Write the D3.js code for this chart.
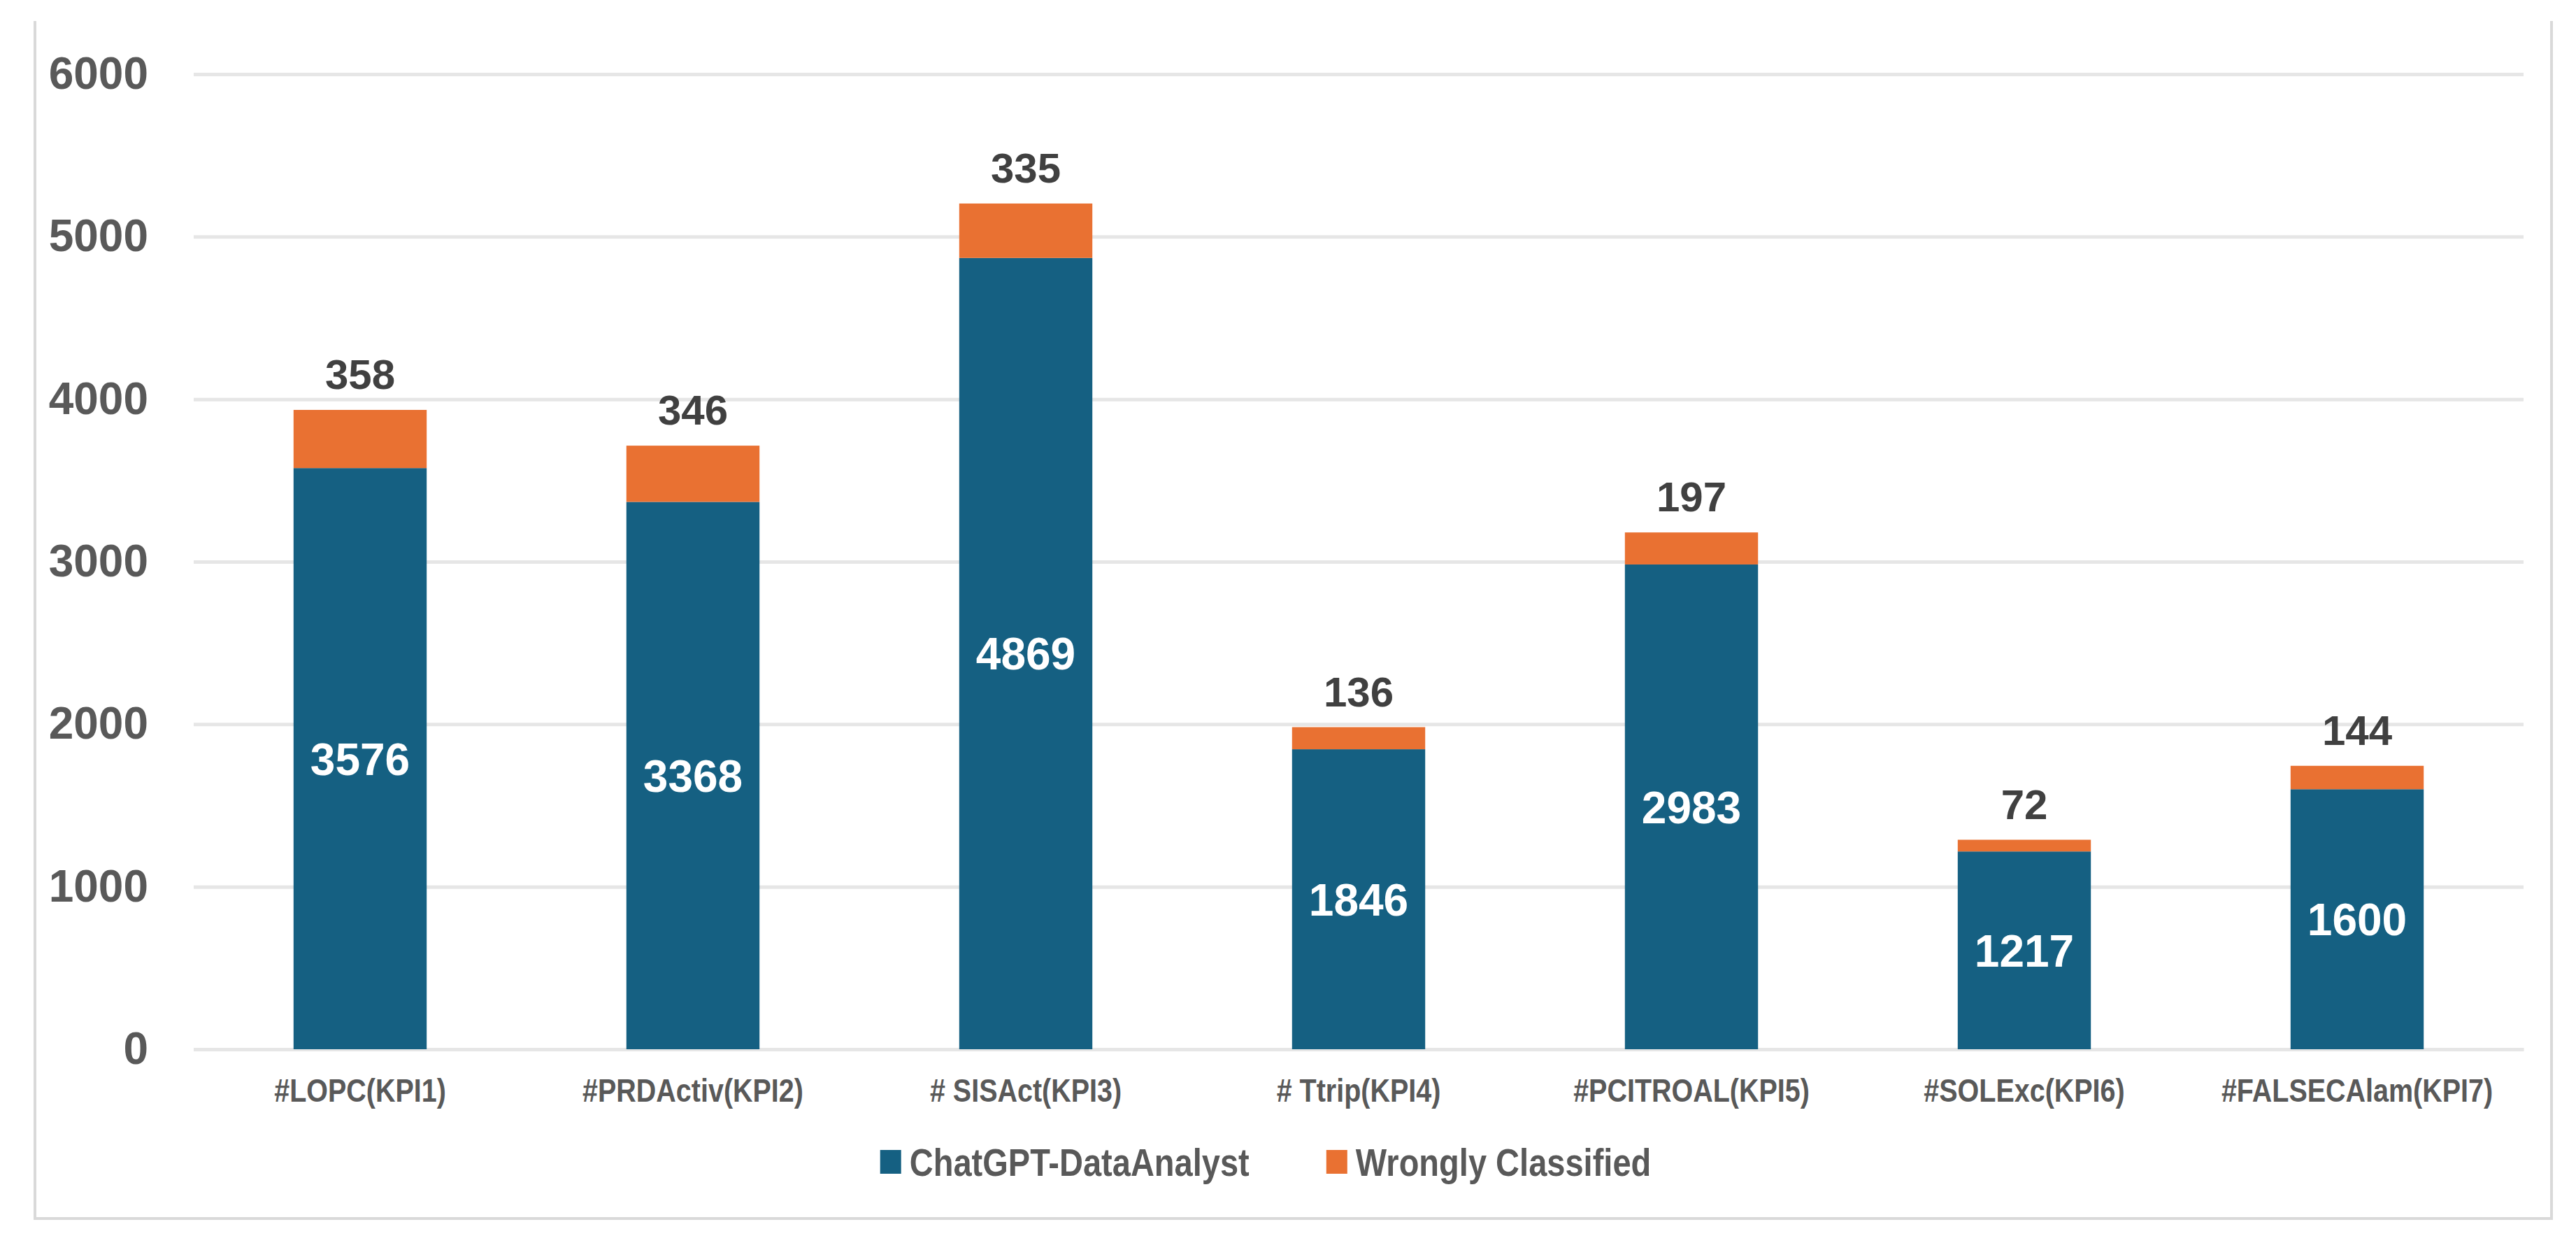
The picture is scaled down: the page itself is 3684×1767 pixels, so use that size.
<!DOCTYPE html>
<html>
<head>
<meta charset="utf-8">
<script src="https://cdn.jsdelivr.net/npm/d3@7"></script>
<style>
  html, body { margin: 0; padding: 0; background: #fff; }
  svg { display: block; }
</style>
</head>
<body>
<div id="chart"></div>
<script>
const categories = ['#LOPC(KPI1)', '#PRDActiv(KPI2)', '# SISAct(KPI3)', '# Ttrip(KPI4)', '#PCITROAL(KPI5)', '#SOLExc(KPI6)', '#FALSECAlam(KPI7)'];
const analystValues = [3576, 3368, 4869, 1846, 2983, 1217, 1600];
const wrongValues = [358, 346, 335, 136, 197, 72, 144];
const seriesNames = ['ChatGPT-DataAnalyst', 'Wrongly Classified'];
const yTicks = [0, 1000, 2000, 3000, 4000, 5000, 6000];

const W = 3684, H = 1767;
const colors = ['#156082', '#E97132'];
const font = '"Liberation Sans", Arial, sans-serif';
const squeeze = 0.84; // the axis/legend text in the original is condensed

const rows = categories.map((c, i) => ({ cat: c, a: analystValues[i], w: wrongValues[i] }));

const svg = d3.select('#chart').append('svg')
  .attr('width', W)
  .attr('height', H);

svg.append('rect').attr('width', W).attr('height', H).attr('fill', '#fff');

// chart border (left, bottom, right)
svg.append('path')
  .attr('d', `M50,30V1742H3649V30`)
  .attr('fill', 'none')
  .attr('stroke', '#d9d9d9')
  .attr('stroke-width', 4);

const x = d3.scaleBand()
  .domain(categories)
  .range([277, 3609])
  .paddingInner(0.6)
  .paddingOuter(0.3);

const y = d3.scaleLinear()
  .domain([0, 6000])
  .range([1500, 106]);

// gridlines + y labels
const yAxis = svg.append('g')
  .attr('transform', 'translate(277,0)')
  .call(d3.axisLeft(y).tickValues(yTicks).tickFormat(d3.format('d')).tickSize(-(3609 - 277)).tickPadding(65));
yAxis.select('.domain').remove();
yAxis.selectAll('.tick line').attr('stroke', '#e6e6e6').attr('stroke-width', 5);
yAxis.selectAll('.tick text')
  .attr('fill', '#595959')
  .style('font-family', font)
  .style('font-weight', 'bold')
  .style('font-size', '64px');

// x axis line + category labels
const xAxis = svg.append('g')
  .attr('transform', 'translate(0,1500)')
  .call(d3.axisBottom(x).tickSize(0).tickPadding(42));
xAxis.select('.domain').attr('stroke', '#e6e6e6').attr('stroke-width', 5);
xAxis.selectAll('.tick text')
  .attr('fill', '#595959')
  .attr('transform', `scale(${squeeze},1)`)
  .style('font-family', font)
  .style('font-weight', 'bold')
  .style('font-size', '47px');

// stacked bars
const stack = d3.stack().keys(['a', 'w'])(rows);
svg.append('g').selectAll('g')
  .data(stack)
  .join('g')
  .attr('fill', (d, i) => colors[i])
  .selectAll('rect')
  .data(d => d)
  .join('rect')
  .attr('x', d => x(d.data.cat))
  .attr('y', d => y(d[1]))
  .attr('width', x.bandwidth())
  .attr('height', d => y(d[0]) - y(d[1]));

// inside labels (blue)
svg.append('g').selectAll('text')
  .data(rows)
  .join('text')
  .attr('x', d => x(d.cat) + x.bandwidth() / 2)
  .attr('y', d => (y(0) + y(d.a)) / 2)
  .attr('dy', '0.36em')
  .attr('text-anchor', 'middle')
  .attr('fill', '#fff')
  .style('font-family', font)
  .style('font-weight', 'bold')
  .style('font-size', '64px')
  .text(d => d.a);

// top labels (orange)
svg.append('g').selectAll('text')
  .data(rows)
  .join('text')
  .attr('x', d => x(d.cat) + x.bandwidth() / 2)
  .attr('y', d => y(d.a + d.w) - 30)
  .attr('text-anchor', 'middle')
  .attr('fill', '#404040')
  .style('font-family', font)
  .style('font-weight', 'bold')
  .style('font-size', '60px')
  .text(d => d.w);

// legend
const legend = svg.append('g').attr('transform', 'translate(0,1661)');
const items = legend.selectAll('g')
  .data(seriesNames)
  .join('g');
items.append('rect')
  .attr('width', 30).attr('height', 34)
  .attr('y', -17)
  .attr('fill', (d, i) => colors[i]);
items.append('text')
  .attr('x', 42 / squeeze)
  .attr('dy', '0.36em')
  .attr('transform', `scale(${squeeze},1)`)
  .attr('fill', '#595959')
  .style('font-family', font)
  .style('font-weight', 'bold')
  .style('font-size', '56px')
  .text(d => d);
const widths = [];
items.each(function () {
  widths.push(42 + this.querySelector('text').getComputedTextLength() * squeeze);
});
const gap = 110;
const total = d3.sum(widths) + gap * (widths.length - 1);
let lx = 1810 - total / 2;
items.attr('transform', (d, i) => {
  const t = `translate(${lx},0)`;
  lx += widths[i] + gap;
  return t;
});
</script>
</body>
</html>
